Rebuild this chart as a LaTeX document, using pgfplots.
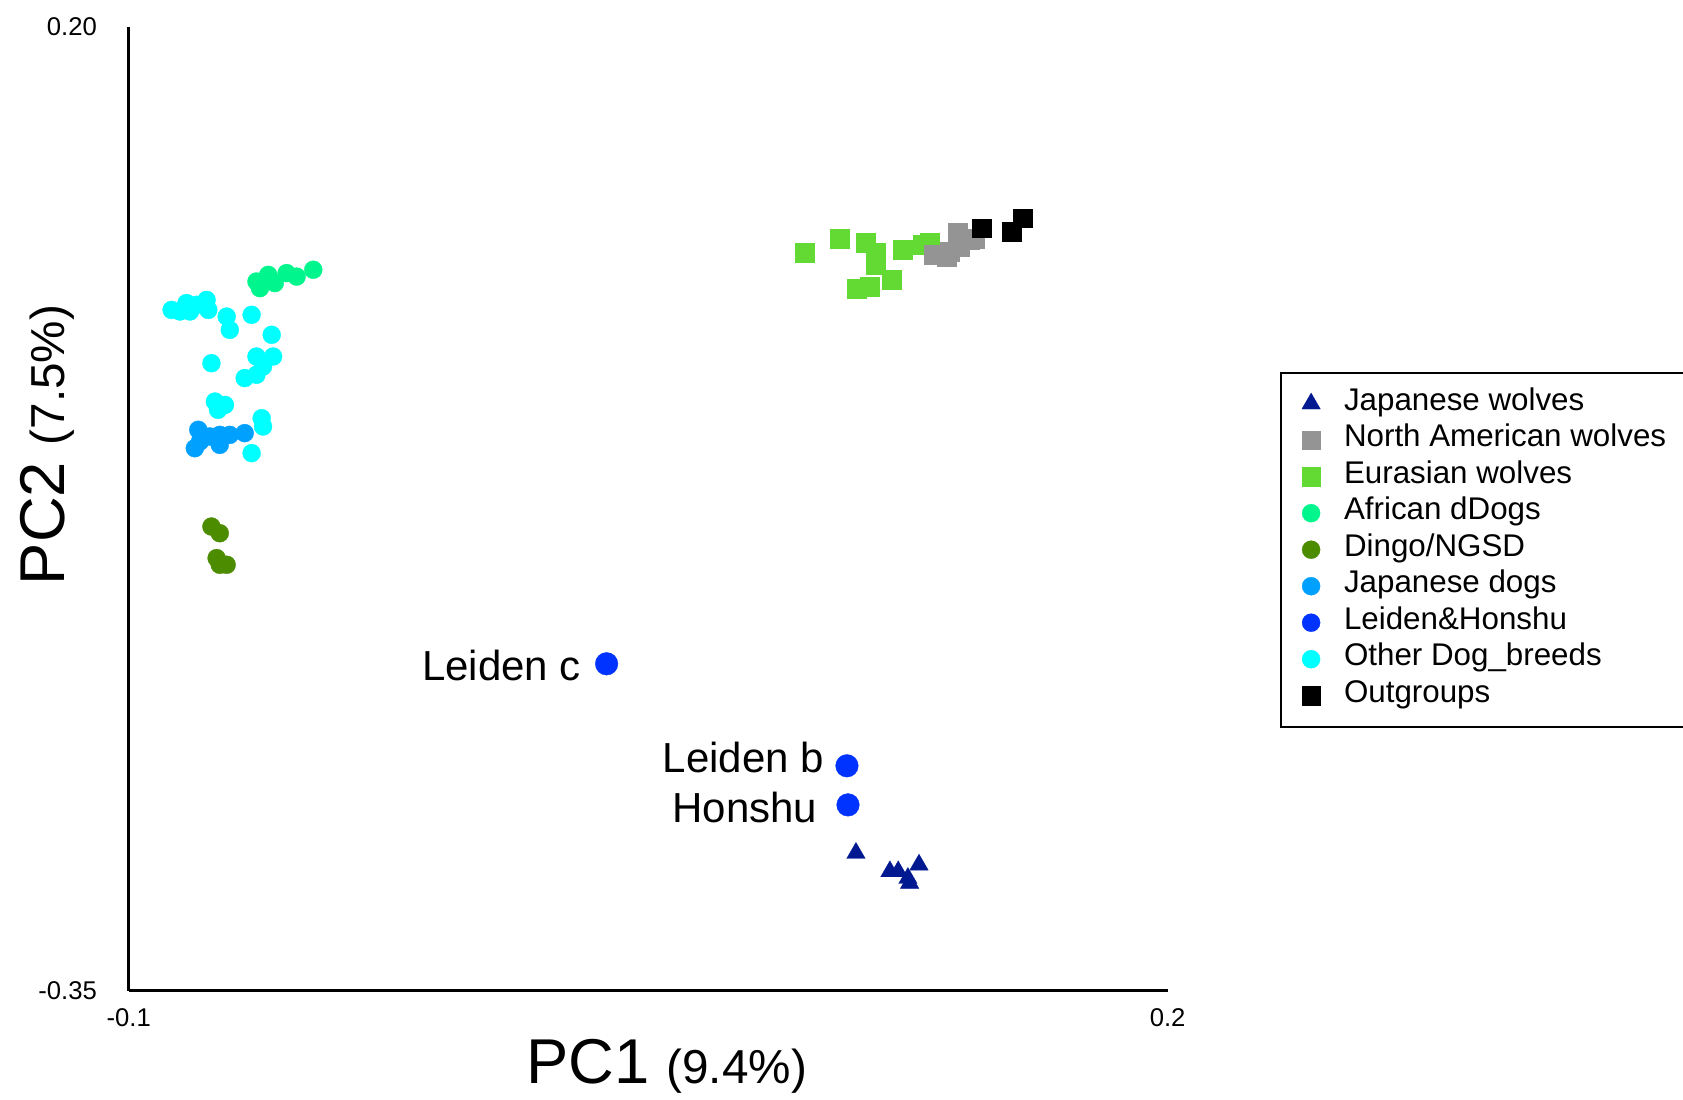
\documentclass[border=0pt]{standalone}
\usepackage{fontspec}
\setmainfont{Liberation Sans}
\usepackage{pgfplots}
\pgfplotsset{compat=1.18}
\definecolor{jwolf}{RGB}{0,25,145}
\definecolor{nawolf}{RGB}{148,148,148}
\definecolor{euwolf}{RGB}{99,217,52}
\definecolor{afdog}{RGB}{0,245,140}
\definecolor{dingo}{RGB}{76,140,0}
\definecolor{jpdog}{RGB}{0,160,255}
\definecolor{leiden}{RGB}{0,51,255}
\definecolor{otherdog}{RGB}{0,255,255}
\pgfplotsset{
  mylegimg/.style={legend image code/.code={\draw[##1] plot coordinates {(0pt,0pt)};}},
}
\begin{document}
\begin{tikzpicture}
\begin{axis}[
  scale only axis,
  width=311.7pt, height=289.2pt,
  xmin=-0.1, xmax=0.2, ymin=-0.35, ymax=0.2,
  axis x line*=bottom, axis y line*=left,
  axis line style={-, line width=0.8pt},
  major tick length=0pt,
  xtick={-0.1,0.2}, xticklabels={-0.1,0.2},
  ytick={-0.35,0.2}, yticklabels={-0.35,0.20},
  /pgf/number format/assume math mode=true,
  ticklabel style={font=\fontsize{7.7}{9}\selectfont},
  xticklabel style={yshift=-1.8pt},
  yticklabel style={xshift=-6pt},
  xlabel={{\fontsize{19}{20}\selectfont PC1}\hspace{5pt}{\fontsize{14.3}{16}\selectfont (9.4\%)}},
  ylabel={{\fontsize{19}{20}\selectfont PC2}\hspace{5pt}{\fontsize{14.3}{16}\selectfont (7.5\%)}},
  xlabel style={at={(axis description cs:0.518,-0.078)}, anchor=center},
  ylabel style={at={(axis description cs:-0.078,0.566)}, anchor=center},
  clip=false,
  legend cell align=left,
  legend style={at={(axis description cs:1.108,0.642)}, anchor=north west,
    draw=black, line width=0.6pt,
    font=\fontsize{9.4}{11}\selectfont,
    inner xsep=6.3pt, inner ysep=3.8pt,
    row sep=0pt, column sep=7.1pt,
    nodes={inner sep=0pt, text height=7.5pt, text depth=3.45pt},
    column 2/.style={nodes={text width=110pt}}},
]
% legend entries
\addlegendimage{only marks, mark=triangle*, mark size=3.2pt, color=jwolf, mark options={line width=0.1pt}, mylegimg}
\addlegendentry{Japanese wolves}
\addlegendimage{only marks, mark=square*, mark size=2.75pt, color=nawolf, mark options={line width=0.1pt}, mylegimg}
\addlegendentry{North American wolves}
\addlegendimage{only marks, mark=square*, mark size=2.75pt, color=euwolf, mark options={line width=0.1pt}, mylegimg}
\addlegendentry{Eurasian wolves}
\addlegendimage{only marks, mark=*, mark size=2.7pt, color=afdog, mark options={line width=0.1pt}, mylegimg}
\addlegendentry{African dDogs}
\addlegendimage{only marks, mark=*, mark size=2.7pt, color=dingo, mark options={line width=0.1pt}, mylegimg}
\addlegendentry{Dingo/NGSD}
\addlegendimage{only marks, mark=*, mark size=2.7pt, color=jpdog, mark options={line width=0.1pt}, mylegimg}
\addlegendentry{Japanese dogs}
\addlegendimage{only marks, mark=*, mark size=2.7pt, color=leiden, mark options={line width=0.1pt}, mylegimg}
\addlegendentry{Leiden\&Honshu}
\addlegendimage{only marks, mark=*, mark size=2.7pt, color=otherdog, mark options={line width=0.1pt}, mylegimg}
\addlegendentry{Other Dog\_breeds}
\addlegendimage{only marks, mark=square*, mark size=2.75pt, color=black, mark options={line width=0.1pt}, mylegimg}
\addlegendentry{Outgroups}

% Eurasian wolves
\addplot[forget plot, only marks, mark=square*, mark size=2.85pt, color=euwolf, mark options={line width=0.1pt}] coordinates {
(0.0952,0.0708) (0.1053,0.0788) (0.1128,0.0768) (0.1157,0.0708) (0.1157,0.0641)
(0.1101,0.0508) (0.1140,0.0517) (0.1202,0.0556) (0.1236,0.0727) (0.1294,0.0755) (0.1313,0.0768)
};
% North American wolves
\addplot[forget plot, only marks, mark=square*, mark size=2.85pt, color=nawolf, mark options={line width=0.1pt}] coordinates {
(0.1323,0.0698) (0.1361,0.0688) (0.1395,0.0822) (0.1429,0.0784) (0.1443,0.0793) (0.1371,0.0717) (0.1400,0.0746)
};
% Outgroups
\addplot[forget plot, only marks, mark=square*, mark size=2.8pt, color=black, mark options={line width=0.1pt}] coordinates {
(0.1462,0.0850) (0.1549,0.0831) (0.1581,0.0907)
};
% African dDogs
\addplot[forget plot, only marks, mark=*, mark size=2.7pt, color=afdog, mark options={line width=0.1pt}] coordinates {
(-0.0621,0.0508) (-0.0597,0.0584) (-0.0578,0.0537) (-0.0544,0.0594) (-0.0515,0.0574) (-0.0467,0.0613) (-0.0631,0.0546)
};
% Other dog breeds
\addplot[forget plot, only marks, mark=*, mark size=2.7pt, color=otherdog, mark options={line width=0.1pt}] coordinates {
(-0.0876,0.0384) (-0.0852,0.0375) (-0.0833,0.0423) (-0.0823,0.0375) (-0.0804,0.0413)
(-0.0775,0.0441) (-0.0770,0.0384) (-0.0717,0.0346) (-0.0708,0.0270) (-0.0645,0.0356)
(-0.0587,0.0242) (-0.0761,0.0080) (-0.0631,0.0118) (-0.0583,0.0118) (-0.0612,0.0061)
(-0.0665,-0.0005) (-0.0631,0.0014) (-0.0751,-0.0139) (-0.0722,-0.0158) (-0.0742,-0.0186)
(-0.0616,-0.0234) (-0.0612,-0.0281) (-0.0645,-0.0433)
};
% Japanese dogs
\addplot[forget plot, only marks, mark=*, mark size=2.7pt, color=jpdog, mark options={line width=0.1pt}] coordinates {
(-0.0799,-0.0300) (-0.0809,-0.0405) (-0.0766,-0.0338) (-0.0737,-0.0329) (-0.0737,-0.0386)
(-0.0708,-0.0329) (-0.0665,-0.0319) (-0.0794,-0.0367)
};
% Dingo/NGSD
\addplot[forget plot, only marks, mark=*, mark size=2.7pt, color=dingo, mark options={line width=0.1pt}] coordinates {
(-0.0761,-0.0852) (-0.0737,-0.0890) (-0.0746,-0.1032) (-0.0717,-0.1070) (-0.0737,-0.1070)
};
% Leiden & Honshu
\addplot[forget plot, only marks, mark=*, mark size=3.4pt, color=leiden, mark options={line width=0.1pt}] coordinates {
(0.0380,-0.1635) (0.1074,-0.2217) (0.1077,-0.2440)
};
% Japanese wolves
\addplot[forget plot, only marks, mark=triangle*, mark size=3.2pt, color=jwolf, mark options={line width=0.1pt}] coordinates {
(0.1100,-0.2715) (0.1198,-0.2820) (0.1222,-0.2820) (0.1250,-0.2858) (0.1255,-0.2886) (0.1282,-0.2782)
};
\node[anchor=base east, inner sep=0pt, font=\fontsize{12.6}{14}\selectfont, xshift=-7.5pt, yshift=-5pt] at (axis cs:0.0380,-0.1635) {Leiden c};
\node[anchor=base east, inner sep=0pt, font=\fontsize{12.6}{14}\selectfont, xshift=-6.7pt, yshift=-2pt] at (axis cs:0.1074,-0.2217) {Leiden b};
\node[anchor=base east, inner sep=0pt, font=\fontsize{12.6}{14}\selectfont, xshift=-9pt, yshift=-5.4pt] at (axis cs:0.1077,-0.2440) {Honshu};
\end{axis}
\pgfresetboundingbox
\path[use as bounding box] (-38.6pt,-32.5pt) rectangle (466.3pt,297.2pt);
\end{tikzpicture}
\end{document}
